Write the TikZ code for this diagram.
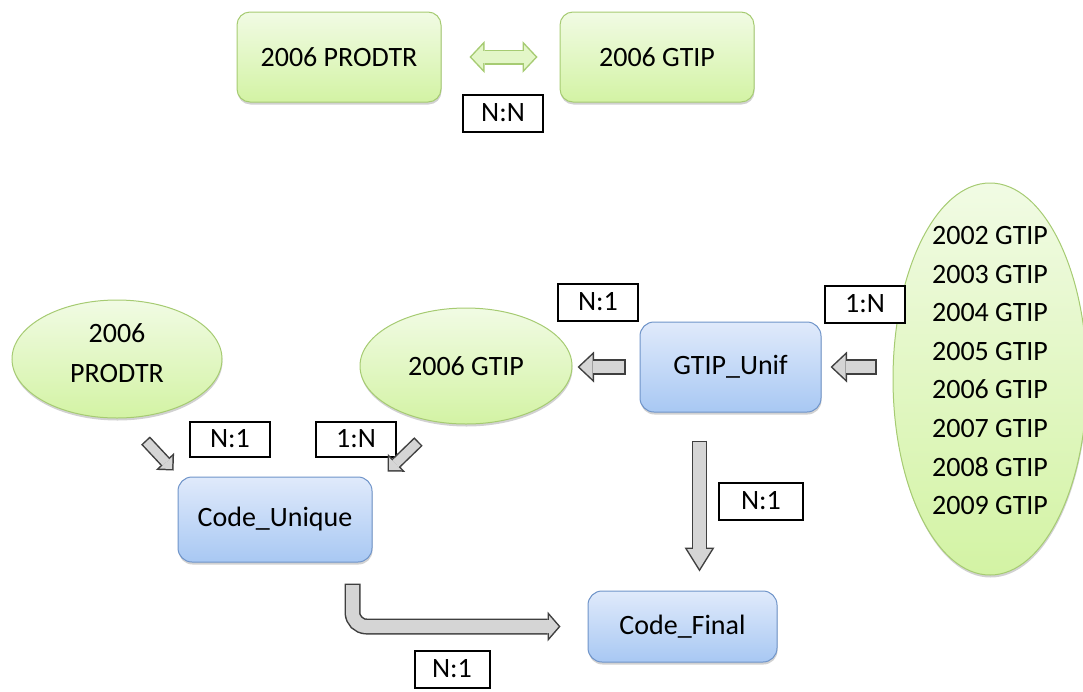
\documentclass[tikz,border=0pt]{standalone}
\usepackage{fontspec}
\setmainfont{Carlito}
\usepackage{tikz}
\usetikzlibrary{arrows.meta,shapes.geometric,shadows}
\definecolor{GreenLine}{HTML}{A6CB72}
\definecolor{GreenTop}{HTML}{F1FBE4}
\definecolor{GreenBottom}{HTML}{D3F3A4}
\definecolor{SwapFill}{HTML}{E3F6C8}
\definecolor{BlueLine}{HTML}{6F94C9}
\definecolor{BlueTop}{HTML}{E0EAFB}
\definecolor{BlueBottom}{HTML}{A8C8F3}
\definecolor{ArrowLine}{HTML}{3F3F3F}
\definecolor{ArrowFill}{HTML}{D5D5D5}
\tikzset{
  softshadow/.style={
    drop shadow={shadow xshift=0.5pt, shadow yshift=-2.5pt, opacity=0.18, fill=black}
  },
  greenbox/.style={
    draw=GreenLine,
    line width=1pt,
    top color=GreenTop,
    bottom color=GreenBottom,
    rounded corners=13pt,
    minimum height=90pt,
    softshadow
  },
  greenoval/.style={
    ellipse,
    draw=GreenLine,
    line width=1pt,
    top color=GreenTop,
    bottom color=GreenBottom,
    align=center,
    inner sep=0pt,
    softshadow
  },
  bluebox/.style={
    draw=BlueLine,
    line width=1pt,
    top color=BlueTop,
    bottom color=BlueBottom,
    rounded corners=14pt,
    softshadow
  },
  ratiobox/.style={
    draw=black,
    line width=2pt,
    fill=white,
    minimum width=80pt,
    minimum height=37pt,
    inner sep=0pt
  },
  % outline pass, then a thinner light pass on the same path
  fatarrow/.style n args={7}{
    draw=ArrowLine,
    line width=#1,
    -{Triangle[width=#2,length=#3,line width=0pt]},
    postaction={draw=ArrowFill, line width=#4,
      -{Triangle[width=#5,length=#6,line width=0pt]},
      shorten >=#7, shorten <=1.5pt}
  },
  sidearrow/.style={fatarrow={15.5pt}{31pt}{16.5pt}{12.5pt}{24pt}{12.8pt}{2.2pt}},
  droparrow/.style={fatarrow={15.5pt}{30pt}{24pt}{12.5pt}{24.6pt}{19.7pt}{2.8pt}},
  bendarrow/.style={fatarrow={16pt}{30pt}{13pt}{13pt}{21.9pt}{9.5pt}{2pt},rounded corners=14pt},
  slantarrow/.style={fatarrow={12pt}{25pt}{12.5pt}{9pt}{17.8pt}{8.9pt}{2.1pt}},
  swaparrow/.style={
    draw=GreenLine,
    line width=15pt,
    {Triangle[width=32pt,length=15pt,line width=0pt]}-{Triangle[width=32pt,length=15pt,line width=0pt]},
    postaction={draw=SwapFill, line width=12pt,
      {Triangle[width=24.4pt,length=11.5pt,line width=0pt]}-{Triangle[width=24.4pt,length=11.5pt,line width=0pt]},
      shorten >=2pt, shorten <=2pt}
  }
}

\begin{document}
\begin{tikzpicture}[x=1pt,y=-1pt,font=\fontsize{28}{34}\selectfont]
  \useasboundingbox (0,0) rectangle (1083,691);
  % N:N pair on top
  \node[greenbox,minimum width=204pt] (prodbox) at (339,57) {2006 PRODTR};
  \node[greenbox,minimum width=194pt] (gtipbox) at (657,57) {2006 GTIP};
  \node[ratiobox] (nn) at (503,113) {N:N};
  \draw[swaparrow] ([xshift=28pt]prodbox.east) -- ([xshift=-22pt]gtipbox.west);

  % sources
  \node[greenoval,minimum width=210pt,minimum height=118pt,font=\fontsize{28}{40}\selectfont] (prodoval) at (117,359) {2006\\PRODTR\\[-28pt]\mbox{}};
  \node[greenoval,minimum width=212pt,minimum height=116pt] (gtipoval) at (466,366) {2006 GTIP};
  \node[greenoval,minimum width=194pt,minimum height=392pt,inner ysep=-30pt,font=\fontsize{28}{38.6}\selectfont] (years) at (990,379)
    {2002 GTIP\\2003 GTIP\\2004 GTIP\\2005 GTIP\\2006 GTIP\\2007 GTIP\\2008 GTIP\\2009 GTIP\\[-21.6pt]\mbox{}};

  % derived tables
  \node[bluebox,minimum width=181pt,minimum height=90pt] (gtipunif) at (730.5,367) {GTIP\_Unif};
  \node[bluebox,minimum width=194pt,minimum height=85pt] (codeunique) at (275,519.5) {Code\_Unique};
  \node[bluebox,minimum width=189pt,minimum height=71pt] (codefinal) at (682.5,626.5) {Code\_Final};

  % cardinalities
  \node[ratiobox] (r1) at (598,302) {N:1};
  \node[ratiobox] (r2) at (865,304) {1:N};
  \node[ratiobox,minimum height=35pt] (r3) at (230,439) {N:1};
  \node[ratiobox,minimum height=35pt] (r4) at (356,439) {1:N};
  \node[ratiobox,minimum width=84pt] (r5) at (761,501) {N:1};
  \node[ratiobox,minimum width=75pt] (r6) at (452,669) {N:1};

  \draw[sidearrow] ([xshift=-16pt]years.west |- gtipunif.east) -- ([xshift=9pt]gtipunif.east);
  \draw[sidearrow] ([xshift=-14pt]gtipunif.west) -- ([xshift=5pt]gtipoval.east |- gtipunif.west);
  \draw[droparrow] ([xshift=-31pt,yshift=-28pt]gtipunif.south) -- ([xshift=-31pt,yshift=19pt]gtipunif.south |- codefinal.north);
  \draw[slantarrow] ([shift={(-32,-36)}]codeunique.north west) -- ([shift={(-4,-6)}]codeunique.north west);
  \draw[slantarrow] ([shift={(46,-35)}]codeunique.north east) -- ([shift={(15,-5)}]codeunique.north east);
  \draw[bendarrow] ([xshift=-20pt,yshift=-21pt]codeunique.south east) |- ([xshift=-27pt]codefinal.west);
\end{tikzpicture}
\end{document}
